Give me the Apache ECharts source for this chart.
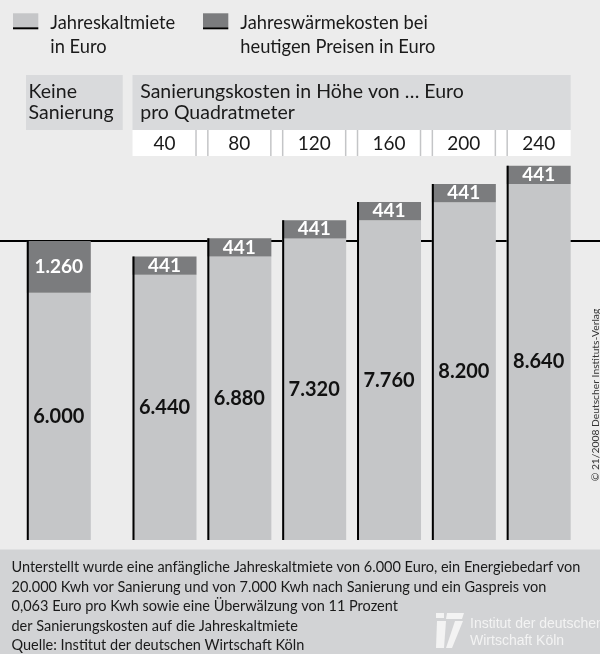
<!DOCTYPE html>
<html>
<head>
<meta charset="utf-8">
<script src="https://cdn.jsdelivr.net/npm/echarts@6/dist/echarts.min.js"></script>
<style>
html,body{margin:0;padding:0;background:#ececec;}
#chart{width:600px;height:654px;}
</style>
</head>
<body>
<div id="chart"></div>
<script>
// ---- data ----
const baseCategory = ['Keine Sanierung'];
const costCategories = ['40', '80', '120', '160', '200', '240'];
const kaltmiete = [6000, 6440, 6880, 7320, 7760, 8200, 8640];
const waermekosten = [1260, 441, 441, 441, 441, 441, 441];
const seriesNames = ['Jahreskaltmiete in Euro', 'Jahreswärmekosten bei heutigen Preisen in Euro'];
const legendLabels = ['Jahreskaltmiete\nin Euro', 'Jahreswärmekosten bei\nheutigen Preisen in Euro'];
const headerTexts = ['Keine\nSanierung', 'Sanierungskosten in Höhe von … Euro\npro Quadratmeter'];
const footerText = 'Unterstellt wurde eine anfängliche Jahreskaltmiete von 6.000 Euro, ein Energiebedarf von\n20.000 Kwh vor Sanierung und von 7.000 Kwh nach Sanierung und ein Gaspreis von\n0,063 Euro pro Kwh sowie eine Überwälzung von 11 Prozent\nder Sanierungskosten auf die Jahreskaltmiete\nQuelle: Institut der deutschen Wirtschaft Köln';
const copyrightText = '© 21/2008 Deutscher Instituts-Verlag';
const logoText = 'Institut der deutschen\nWirtschaft Köln';
const yMax = 10000;

// ---- styles ----
const FONT = 'Lato';
const LIGHT = '#c5c6c8';
const DARK = '#7b7c7e';
const BAR_W = 64;

function de(n) { return String(n).replace(/\B(?=(\d{3})+(?!\d))/g, '.'); }

// legend icon: swatch with black bottom rule, aligned with first text line
function swatch(color) {
  const c = document.createElement('canvas');
  c.width = 32; c.height = 48;
  const g = c.getContext('2d');
  g.fillStyle = color; g.fillRect(0, 2.3, 25, 14);
  g.fillStyle = '#000'; g.fillRect(0, 16.3, 25, 2);
  return 'image://' + c.toDataURL();
}

const chart = echarts.init(document.getElementById('chart'), null, {renderer: 'canvas'});

const lightLabel = {show: true, position: 'inside', formatter: p => de(p.value), color: '#111', fontFamily: FONT, fontWeight: 'bold', fontSize: 20};
const darkLabel = {show: true, position: 'inside', formatter: p => de(p.value), color: '#fff', fontFamily: FONT, fontWeight: 'bold', fontSize: 19};

function edgeSeries(gridIdx, totals) {
  return {
    type: 'custom', xAxisIndex: gridIdx, yAxisIndex: gridIdx, z: 5, silent: true,
    data: totals.map((t, i) => [i, t]),
    renderItem: function (params, api) {
      const p0 = api.coord([api.value(0), 0]);
      const p1 = api.coord([api.value(0), api.value(1)]);
      const x = p0[0] - BAR_W / 2 + 1;
      return {type: 'line', shape: {x1: x, y1: p0[1], x2: x, y2: p1[1]}, style: {stroke: '#000', lineWidth: 2}};
    }
  };
}

const totals = kaltmiete.map((v, i) => v + waermekosten[i]);

const legendBase = {
  orient: 'horizontal', top: 11, padding: 0, itemWidth: 32, itemHeight: 48,
  selectedMode: false,
  textStyle: {fontFamily: FONT, fontSize: 18.3, lineHeight: 24, color: '#1a1a1a'}
};

chart.setOption({
  backgroundColor: '#ececec',
  animation: false,
  legend: [
    Object.assign({}, legendBase, {left: 13.3, data: [{name: seriesNames[0], icon: swatch(LIGHT)}], formatter: () => legendLabels[0]}),
    Object.assign({}, legendBase, {left: 203.3, data: [{name: seriesNames[1], icon: swatch(DARK)}], formatter: () => legendLabels[1]})
  ],
  grid: [
    {left: 21.4, top: 128, width: 74.8, height: 412},
    {left: 127.1, top: 128, width: 449, height: 412},
    {left: 0, right: 0, top: 128, height: 412}
  ],
  xAxis: [
    {type: 'category', gridIndex: 0, data: baseCategory, show: false},
    {type: 'category', gridIndex: 1, data: costCategories, position: 'top', z: 10,
      axisLine: {show: false}, axisTick: {show: false},
      axisLabel: {inside: true, margin: 6, fontFamily: FONT, fontSize: 19, color: '#1a1a1a'}},
    {type: 'value', gridIndex: 2, min: 0, max: 1, show: false}
  ],
  yAxis: [0, 1, 2].map(i => ({type: 'value', gridIndex: i, min: 0, max: yMax, show: false})),
  series: [
    {type: 'line', xAxisIndex: 2, yAxisIndex: 2, z: 1, silent: true, symbol: 'none',
      data: [[0, totals[0]], [1, totals[0]]], lineStyle: {color: '#000', width: 2}},
    {name: seriesNames[0], type: 'bar', xAxisIndex: 0, yAxisIndex: 0, stack: 'a', barWidth: BAR_W,
      itemStyle: {color: LIGHT}, label: lightLabel, data: kaltmiete.slice(0, 1)},
    {name: seriesNames[1], type: 'bar', xAxisIndex: 0, yAxisIndex: 0, stack: 'a', barWidth: BAR_W,
      itemStyle: {color: DARK}, label: darkLabel, data: waermekosten.slice(0, 1)},
    {name: seriesNames[0], type: 'bar', xAxisIndex: 1, yAxisIndex: 1, stack: 'b', barWidth: BAR_W,
      itemStyle: {color: LIGHT}, label: lightLabel, data: kaltmiete.slice(1)},
    {name: seriesNames[1], type: 'bar', xAxisIndex: 1, yAxisIndex: 1, stack: 'b', barWidth: BAR_W,
      itemStyle: {color: DARK}, label: darkLabel, data: waermekosten.slice(1)},
    edgeSeries(0, totals.slice(0, 1)),
    edgeSeries(1, totals.slice(1))
  ]
});

// ---- header / footer decorations positioned from the axes ----
const cx0 = chart.convertToPixel({xAxisIndex: 0, yAxisIndex: 0}, [0, 0])[0];
const cxs = costCategories.map((c, i) => chart.convertToPixel({xAxisIndex: 1, yAxisIndex: 1}, [i, 0])[0]);
const half = BAR_W / 2;
const rowL = cxs[0] - half, rowR = cxs[cxs.length - 1] + half;
const g = [];
g.push({type: 'rect', shape: {x: cx0 - half - 0.8, y: 75, width: 96.7, height: 55}, style: {fill: '#d9dadc'}, z: 0});
g.push({type: 'rect', shape: {x: rowL, y: 75, width: rowR - rowL, height: 55}, style: {fill: '#d9dadc'}, z: 0});
g.push({type: 'rect', shape: {x: rowL, y: 130, width: rowR - rowL, height: 26}, style: {fill: '#ffffff'}, z: 0});
for (let i = 0; i < cxs.length - 1; i++) {
  [cxs[i] + half - 0.5, cxs[i + 1] - half + 0.5].forEach(x => {
    g.push({type: 'line', shape: {x1: x, y1: 130, x2: x, y2: 156}, style: {stroke: '#c4c5c7', lineWidth: 1.5}, z: 1});
  });
}
g.push({type: 'text', x: cx0 - half + 1.8, y: 80.5, z: 2, style: {text: headerTexts[0], fontFamily: FONT, fontSize: 19.5, lineHeight: 21.6, fill: '#1a1a1a'}});
g.push({type: 'text', x: rowL + 7.7, y: 80.5, z: 2, style: {text: headerTexts[1], fontFamily: FONT, fontSize: 19.5, lineHeight: 21.6, fill: '#1a1a1a'}});
// footer
g.push({type: 'rect', shape: {x: 0, y: 549.5, width: 600, height: 105}, style: {fill: '#d2d3d5'}, z: 0});
g.push({type: 'text', x: 11.5, y: 558, z: 2, style: {text: footerText, fontFamily: FONT, fontSize: 14.5, lineHeight: 19.5, fill: '#1a1a1a'}});
// copyright
g.push({type: 'text', x: 596, y: 395, rotation: Math.PI / 2, z: 2, style: {text: copyrightText, fontFamily: FONT, fontSize: 10.3, fill: '#333', align: 'center', verticalAlign: 'middle'}});
// logo
const LG = '#f3f3f3';
g.push({type: 'rect', shape: {x: 436, y: 613, width: 8, height: 5}, style: {fill: LG}, z: 2});
g.push({type: 'polygon', shape: {points: [[447, 613], [464, 613], [462, 619], [446, 619]]}, style: {fill: LG}, z: 2});
g.push({type: 'polygon', shape: {points: [[437, 621], [446, 621], [444, 648], [436, 648]]}, style: {fill: LG}, z: 2});
g.push({type: 'polygon', shape: {points: [[455, 621], [463, 621], [452, 648], [446, 648]]}, style: {fill: LG}, z: 2});
g.push({type: 'text', x: 470, y: 616, z: 2, style: {text: logoText, fontFamily: 'Liberation Sans', fontSize: 14, lineHeight: 17, fill: LG}});
chart.setOption({graphic: g});
</script>
</body>
</html>
